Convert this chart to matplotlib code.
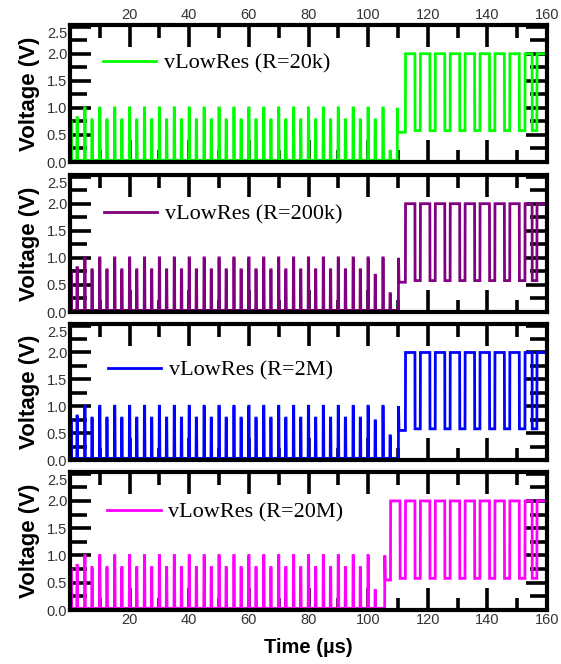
import matplotlib
matplotlib.use("Agg")
import matplotlib.pyplot as plt
from matplotlib.ticker import MultipleLocator

# ---- data (time in us, voltage in V) ----
labels = ["vLowRes (R=20k)", "vLowRes (R=200k)", "vLowRes (R=2M)", "vLowRes (R=20M)"]
colors = ["#00ff00", "#800080", "#0000ff", "#ff00ff"]

# spike train part
tall_t = [5, 10, 15, 20, 25, 30, 35, 40, 45, 50, 55, 60, 65, 70, 75, 80, 85, 90, 95, 100, 105]
short_t = [2.4, 7.4, 12.4, 17.4, 22.4, 27.4, 32.4, 37.4, 42.4, 47.4, 52.4, 57.4, 62.4,
           67.4, 72.4, 77.4, 82.4, 87.4, 92.4, 97.4, 102.4, 107.4]
tall_h = [1.0, 1.0, 1.0, 1.0, 1.0, 1.0, 1.0, 1.0, 1.0, 1.0, 1.0,
          1.0, 1.0, 1.0, 1.0, 1.0, 1.0, 1.0, 1.0, 1.0, 1.0]
short_h = [0.82, 0.78, 0.78, 0.78, 0.78, 0.78, 0.78, 0.78, 0.78, 0.78, 0.78,
           0.78, 0.78, 0.78, 0.78, 0.78, 0.78, 0.78, 0.78, 0.78]
# last two short spikes differ per panel, None = absent
short_tail = [[0.78, 0.20], [0.68, 0.34], [0.73, 0.45], [0.36, None]]
n_tall = [21, 21, 21, 20]
start_level = 0.74
base_level = 0.03

# step into the square wave
step_t = [109.8, 110.2, 110.2, 105.6]
step_peak = 1.0
plateau = 0.55

# square wave part
rise_t = [107.5, 112.5, 117.5, 122.5, 127.5, 132.5, 137.5, 142.5, 147.5, 152.6, 156.6]
fall_t = [110.7, 115.7, 120.7, 125.7, 130.7, 135.7, 140.7, 145.7, 150.7, 155.0, 160.0]
high_level = 2.0
low_level = 0.58
end_level = 1.0


def trace(i):
    spikes = [(t, h) for t, h in zip(tall_t[:n_tall[i]], tall_h[:n_tall[i]])]
    spikes += [(t, h) for t, h in zip(short_t[:20], short_h)]
    for t, h in zip(short_t[20:], short_tail[i]):
        if h is not None:
            spikes.append((t, h))
    spikes.sort()
    tt = [0, 0.5, 0.55]
    vv = [start_level, start_level, base_level]
    for t, h in spikes:
        tt += [t - 0.12, t - 0.05, t + 0.05, t + 0.15]
        vv += [base_level, h, h, base_level]
    s = step_t[i]
    tt += [s - 0.05, s, s + 0.15]
    vv += [base_level, step_peak, plateau]
    first = True
    for r, f in zip(rise_t, fall_t):
        if r < s:
            continue
        tt += [r, r + 0.05, f]
        vv += [plateau if first else low_level, high_level, high_level]
        first = False
        if f < 160:
            tt += [f + 0.05]
            vv += [low_level]
    tt += [160]
    vv += [end_level]
    return tt, vv


plt.rcParams["font.family"] = ["Liberation Sans", "DejaVu Sans"]

fig = plt.figure(figsize=(5.61, 6.64), dpi=100)
W, H = 561, 664
left, right = 70, 547
panels_px = [(25, 162), (175, 312), (324, 460), (472, 610)]
leg_pos = [(0.069, 0.72), (0.071, 0.715), (0.08, 0.66), (0.078, 0.71)]

for i, (top, bot) in enumerate(panels_px):
    ax = fig.add_axes([left / W, 1 - bot / H, (right - left) / W, (bot - top) / H])
    tt, vv = trace(i)
    ax.plot(tt, vv, color=colors[i], lw=2.0, label=labels[i], solid_joinstyle="miter")
    ax.set_xlim(0, 160)
    ax.set_ylim(0, 2.53)
    ax.set_xticks([20, 40, 60, 80, 100, 120, 140, 160])
    ax.xaxis.set_minor_locator(MultipleLocator(10))
    ax.set_yticks([0.0, 0.5, 1.0, 1.5, 2.0, 2.5])
    ax.set_yticklabels(["0.0", "0.5", "1.0", "1.5", "2.0", "2.5"])
    ax.yaxis.set_minor_locator(MultipleLocator(0.25))
    ax.tick_params(which="both", direction="in", top=True, right=True, width=2.6,
                   labelsize=10.5, labelcolor="#333333", pad=2)
    ax.tick_params(axis="x", which="major", length=16)
    ax.tick_params(axis="x", which="minor", length=9)
    ax.tick_params(axis="y", which="major", length=15)
    ax.tick_params(axis="y", which="minor", length=12)
    ax.tick_params(axis="x", labelbottom=(i == 3), labeltop=(i == 0))
    ax.get_yticklabels()[-1].set_verticalalignment("top")
    for sp in ax.spines.values():
        sp.set_linewidth(3)
    ax.set_ylabel("Voltage (V)", fontsize=16, fontweight="bold", labelpad=5)
    ax.legend(loc="center left", bbox_to_anchor=leg_pos[i], frameon=False,
              prop={"family": "Liberation Serif", "size": 16}, handlelength=2.4,
              handletextpad=0.35, borderpad=0, borderaxespad=0)
    if i == 3:
        ax.set_xlabel("Time (\u00b5s)", fontsize=14.5, fontweight="bold", labelpad=8)

fig.savefig("out.png", dpi=100)
